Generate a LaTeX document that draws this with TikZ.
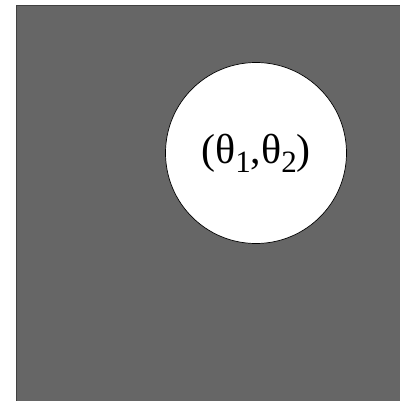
\documentclass[tikz,border=0pt]{standalone}
\usepackage{fontspec}
\setmainfont{Liberation Serif}
\usepackage{tikz}
\usetikzlibrary{positioning}

\newcommand{\lowidx}[1]{\raisebox{-0.22em}{\fontsize{31}{33}\selectfont #1}}

\begin{document}
\begin{tikzpicture}[
  x=1pt, y=-1pt,
  plate/.style={draw=black!75, line width=1.2pt, fill=black!60},
  hole/.style={circle, draw=black, line width=0.7pt, fill=white,
    minimum size=181pt, inner sep=0pt, font=\fontsize{42}{46}\selectfont}
]
  \useasboundingbox (0,0) rectangle (399,401);
  \node[plate, rectangle, minimum width=390pt, minimum height=402pt,
    anchor=north west, inner sep=0pt] (region) at (16,5) {};
  \node[hole] (config) at (256,153)
    {\raisebox{-3pt}{(θ\lowidx{1},θ\lowidx{2})}};
\end{tikzpicture}
\end{document}
